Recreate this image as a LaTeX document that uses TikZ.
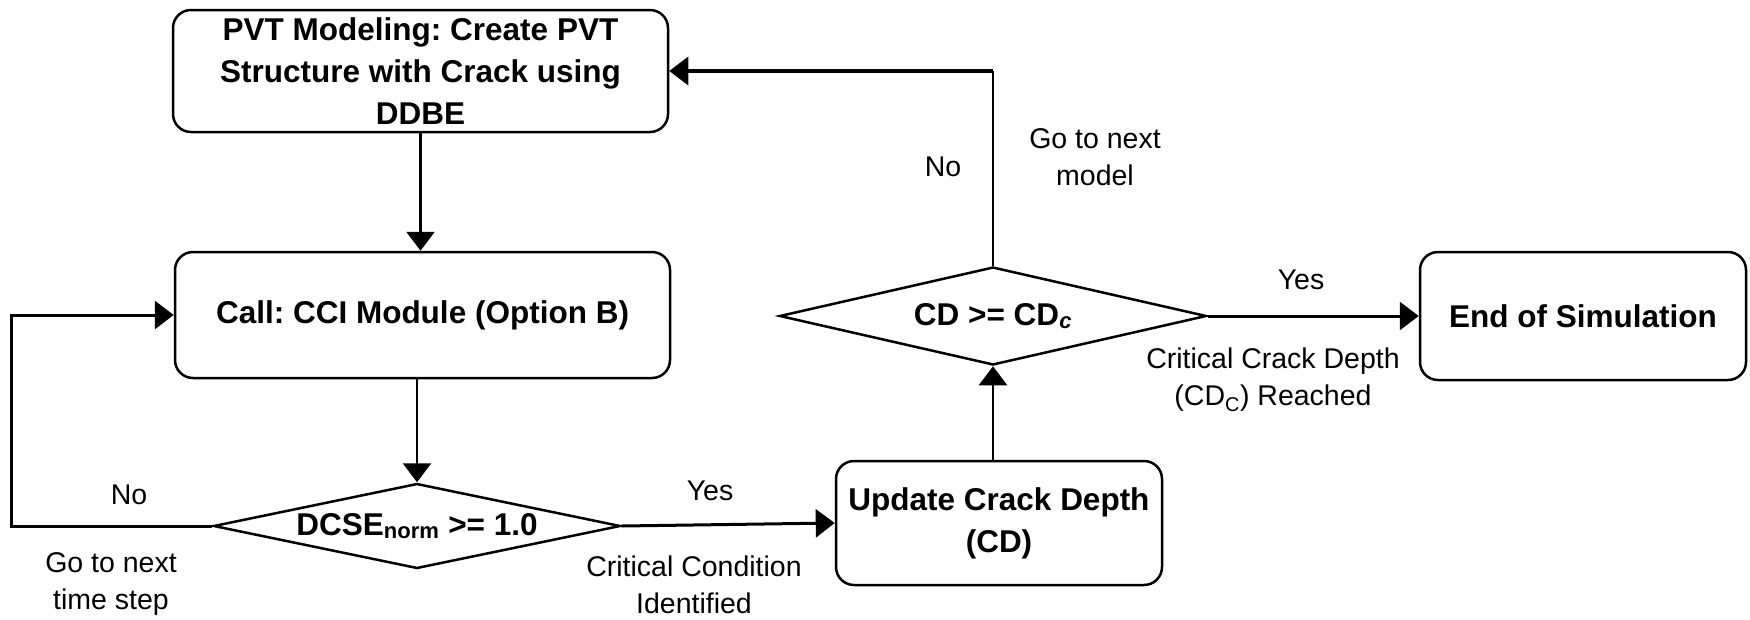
\documentclass[tikz,border=0pt]{standalone}
\usepackage{fontspec}
\setmainfont{Liberation Sans}
\usetikzlibrary{shapes.geometric,arrows.meta}
\frenchspacing
\begin{document}
\begin{tikzpicture}[x=1pt,y=-1pt,
  procbox/.style={draw=black, line width=2.5pt, rounded corners=18pt, align=center,
    font=\fontsize{31.5}{42}\selectfont\bfseries, inner sep=0pt},
  decbox/.style={draw=black, line width=2.5pt, diamond, inner sep=0pt,
    font=\fontsize{31.5}{42}\selectfont\bfseries},
  lbl/.style={align=center, font=\fontsize{28.5}{37}\selectfont, inner sep=0pt},
  arr/.style={line width=3pt, -{Triangle[length=19pt,width=28pt]}},
  conn/.style={line width=3pt}
]
\useasboundingbox (0,0) rectangle (1750,619);

\node[procbox, minimum width=495pt, minimum height=122pt] (pvt) at (420.5,71)
  {PVT Modeling: Create PVT\\Structure with Crack using\\DDBE};
\node[procbox, minimum width=495pt, minimum height=126pt] (cci) at (422.5,315)
  {Call: CCI Module (Option B)};
\node[decbox, aspect=4.78, minimum width=407pt, minimum height=85pt] (d1) at (417,526)
  {DCSE\textsubscript{norm} >= 1.0};
\node[procbox, minimum width=326pt, minimum height=124pt] (upd) at (999,523)
  {Update Crack Depth\\(CD)};
\node[decbox, aspect=4.35, minimum width=427pt, minimum height=98pt] (d2) at (993,316)
  {CD >= CD\textsubscript{\itshape c}};
\node[procbox, minimum width=326pt, minimum height=128pt] (end) at (1583,316)
  {End of Simulation};

\coordinate (lp) at (11,526);
\coordinate (tc) at (d2.north |- pvt.east);

\draw[arr, line width=2.5pt] (pvt.south) -- (pvt.south |- cci.north);
\draw[arr, line width=2.5pt] (d1.north |- cci.south) -- (d1.north);
\draw[arr] (d1.east) -- (upd.west);
\draw[arr, line width=2.5pt] (d2.south |- upd.north) -- (d2.south);
\draw[arr] (d2.east) -- (end.west);
\draw[line width=2pt] (d2.north) -- (tc);
\draw[arr, line width=3.5pt] (tc) -- (pvt.east);
\draw[arr] (d1.west) -- (lp) |- (cci.west);

\node[lbl] (no1) at (129,495) {No};
\node[lbl] (gt1) at (111,584) {Go to next\\time step};
\node[lbl] (yes1) at (710,491) {Yes};
\node[lbl] (cc1) at (694,585) {Critical Condition\\Identified};
\node[lbl] (no2) at (943,167) {No};
\node[lbl] (gt2) at (1095,157) {Go to next\\model};
\node[lbl] (yes2) at (1301,280) {Yes};
\node[lbl] (cc2) at (1273,380) {Critical Crack Depth\\(CD\textsubscript{C}) Reached};
\end{tikzpicture}
\end{document}
